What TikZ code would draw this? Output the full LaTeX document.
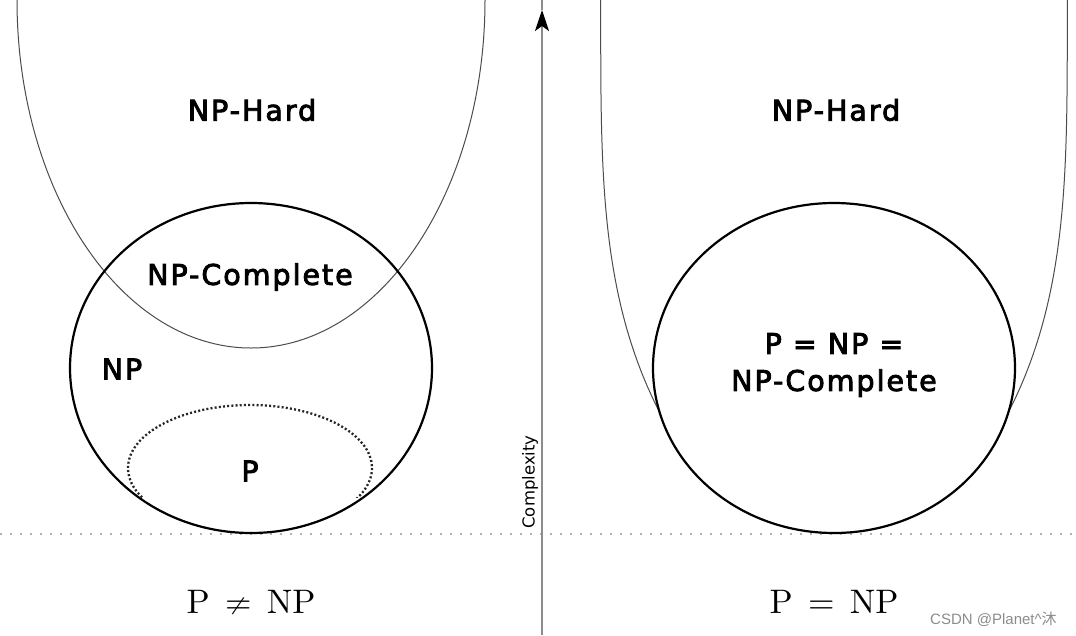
\documentclass[tikz,border=0pt]{standalone}
\usepackage{fontspec}
\newfontfamily\lab{DejaVu Sans}[FakeBold=3, LetterSpace=7]
\newfontfamily\axisfont{DejaVu Sans}
\newfontfamily\lmten{lmroman10-regular.otf}
\newfontfamily\wmfont{Liberation Sans}
\newfontfamily\cjk{Noto Sans CJK SC}
\usetikzlibrary{arrows.meta}
\newcommand\textneqsign{{\ooalign{\hfil\raisebox{0.1em}{\scalebox{0.95}[0.5]{/}}\hfil\cr=}}}
\tikzset{
  setcircle/.style={line width=2.2pt, black},
  hardcurve/.style={line width=1pt, black!70},
  pdots/.style={line width=2.3pt, black!85, dash pattern=on 2pt off 2.2pt},
  baseline dots/.style={line width=1.6pt, black!30, dash pattern=on 1.6pt off 8.4pt},
  axisline/.style={line width=2.4pt, black!45},
  lbl/.style={font=\lab\fontsize{28.5}{34}\selectfont, inner sep=0pt},
  eqlbl/.style={font=\lmten\fontsize{34}{40}\selectfont, inner sep=0pt},
  axislbl/.style={font=\axisfont\fontsize{16.5}{19}\selectfont, inner sep=0pt, rotate=90},
  wmark/.style={font=\wmfont\fontsize{15}{18}\selectfont, text=black!45, inner sep=0pt}
}
\begin{document}
\begin{tikzpicture}[x=1pt,y=-1pt]
\useasboundingbox (0,0) rectangle (1076,635);
\fill[white] (0,0) rectangle (1076,635);

% baseline
\coordinate (baseL) at (0,534);
\coordinate (baseR) at (1076,534);
\draw[baseline dots] (baseL) -- (baseR);

% axis
\coordinate (axisbot) at (542,635);
\coordinate (axistip) at (542,10);
\coordinate (axistop) at (542,0);
\draw[axisline] (axistip) -- (axistop);
\draw[axisline, -{Stealth[black, length=21pt, width=14pt, inset=5pt]}] (axisbot) -- (axistip);
\node[axislbl] (complexity) at (530,482) {Complexity};

% ---------- left: P != NP ----------
\draw[hardcurve] (17,0) arc[start angle=180, end angle=0, x radius=234, y radius=348];
\draw[setcircle] (251,368) ellipse[x radius=181, y radius=165];
\begin{scope}
  \clip (100,380) rectangle (400,497);
  \draw[pdots] (250,468) ellipse[x radius=122, y radius=63];
\end{scope}
\node[lbl] (nphardL) at (252,110) {NP-Hard};
\node[lbl] (npcL) at (250,277) {NP-Complete};
\node[lbl] (npL) at (122,369) {NP};
\node[lbl] (pL) at (250,471) {P};
\node[eqlbl] (eqL) at (251,602) {P\hspace{0.45em}\textneqsign\hspace{0.45em}NP};

% ---------- right: P = NP ----------
\draw[hardcurve] (600.7,0) -- plot[domain=0.5:412, samples=120, variable=\t] ({600.7+58.8*pow(\t/412,3.6)}, {\t});
\draw[hardcurve] (1067.3,0) -- plot[domain=0.5:412, samples=120, variable=\t] ({1067.3-58.8*pow(\t/412,3.6)}, {\t});
\draw[setcircle] (834,368) ellipse[x radius=181, y radius=165];
\node[lbl] (nphardR) at (836,110) {NP-Hard};
\node[lbl, align=center, font=\lab\fontsize{28.5}{37}\selectfont] (peqR) at (834,365) {P = NP =\\NP-Complete};
\node[eqlbl] (eqR) at (834,602) {P\hspace{0.45em}=\hspace{0.45em}NP};

% watermark
\node[wmark, anchor=west] (wm) at (930,619) {CSDN @Planet\textasciicircum{\cjk 沐}};
\end{tikzpicture}
\end{document}
